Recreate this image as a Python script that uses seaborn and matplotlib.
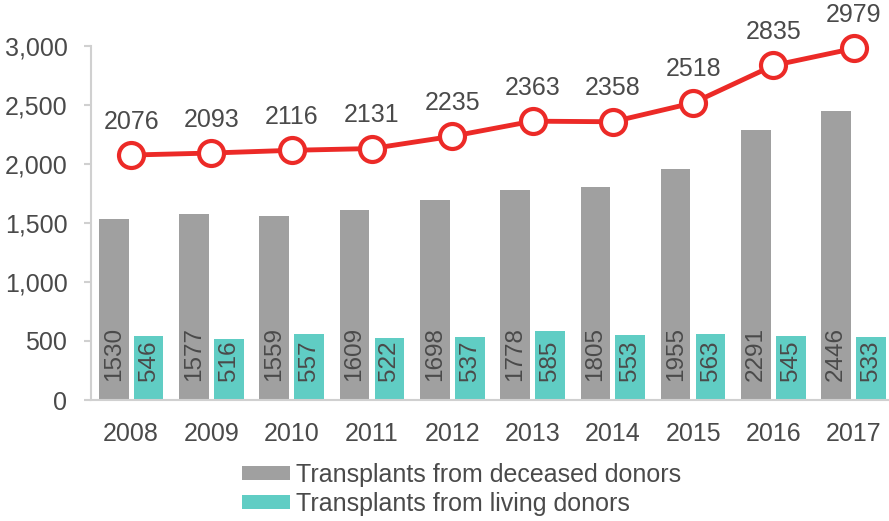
import numpy as np
import pandas as pd
import matplotlib.pyplot as plt
import seaborn as sns
from matplotlib.patches import Patch
from matplotlib.ticker import FuncFormatter, FixedLocator

# values
years = ['2008', '2009', '2010', '2011', '2012', '2013', '2014', '2015', '2016', '2017']
deceased = [1530, 1577, 1559, 1609, 1698, 1778, 1805, 1955, 2291, 2446]
living = [546, 516, 557, 522, 537, 585, 553, 563, 545, 533]
total = [2076, 2093, 2116, 2131, 2235, 2363, 2358, 2518, 2835, 2979]
series = ['Transplants from deceased donors', 'Transplants from living donors']

grey = '#A0A0A0'
teal = '#60CDC4'
red = '#EC2A27'
text_col = '#4A4A4A'
spine_col = '#D0D0D0'

sns.set_style('white')
plt.rcParams['font.family'] = ['Liberation Sans', 'DejaVu Sans']

df = pd.DataFrame({
    'year': years * 2,
    'value': deceased + living,
    'series': [series[0]] * len(years) + [series[1]] * len(years),
})

fig = plt.figure(figsize=(8.89, 5.21), dpi=100)
ax = fig.add_axes([91 / 889, 1 - 400 / 521, 798 / 889, 354 / 521])

sns.barplot(data=df, x='year', y='value', hue='series', hue_order=series,
            palette=[grey, teal], width=0.87, gap=0.15, legend=False, ax=ax,
            saturation=1, edgecolor='none', linewidth=0)

x = np.arange(len(years))
sns.lineplot(x=x, y=total, color=red, linewidth=3.5, marker='o', markersize=18,
             markerfacecolor='white', markeredgecolor=red, markeredgewidth=3,
             ax=ax, clip_on=False, zorder=5)

# labels inside bars
for cont in ax.containers:
    for bar in cont:
        ax.annotate(f'{int(bar.get_height())}', (bar.get_x() + bar.get_width() / 2, 0),
                    xytext=(0, 14), textcoords='offset points', rotation=90,
                    ha='center', va='bottom', fontsize=17.5, color=text_col)

# labels above line points
for xi, v in zip(x, total):
    ax.annotate(f'{v}', (xi, v), xytext=(0, 19), textcoords='offset points',
                ha='center', va='baseline', fontsize=18, color=text_col,
                annotation_clip=False)

ax.set_ylim(0, 3000)
ax.set_xlim(-0.5, 9.44)
ax.set_yticks(range(0, 3001, 500))
ax.yaxis.set_major_formatter(FuncFormatter(lambda v, p: f'{int(v):,}'))
ax.set_xlabel('')
ax.set_ylabel('')

ax.xaxis.set_minor_locator(FixedLocator(np.arange(-0.5, 10, 1)))
ax.tick_params(axis='x', which='major', length=0, pad=16, labelsize=18, labelcolor=text_col)
ax.tick_params(axis='x', which='minor', length=5, width=1.5, color=spine_col, direction='out')
ax.tick_params(axis='y', length=5, width=1.5, color=spine_col, pad=12, labelsize=18,
               labelcolor=text_col, left=True)

sns.despine(ax=ax)
for s in ['left', 'bottom']:
    ax.spines[s].set_color(spine_col)
    ax.spines[s].set_linewidth(1.5)

handles = [Patch(facecolor=grey, edgecolor='none'), Patch(facecolor=teal, edgecolor='none')]
fig.legend(handles, series, loc='upper left', bbox_to_anchor=(242 / 889, 1 - 463 / 521),
           frameon=False, fontsize=18, handlelength=1.92, handleheight=0.48,
           handletextpad=0.25, labelspacing=0.2, borderpad=0, borderaxespad=0,
           labelcolor=text_col)

fig.savefig('out.png', dpi=100)
